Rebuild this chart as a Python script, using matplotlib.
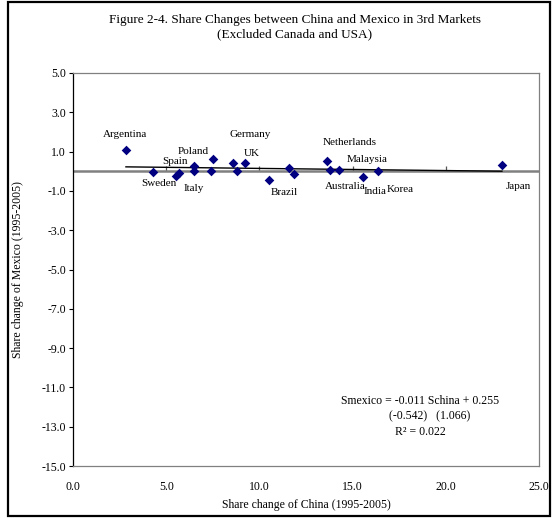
import numpy as np
import matplotlib
matplotlib.use("Agg")
import matplotlib.pyplot as plt
from matplotlib.patches import Rectangle

plt.rcParams["font.family"] = ["Liberation Serif", "DejaVu Serif"]

# Share changes 1995-2005 (percentage points) in third markets
china = [2.84, 4.28, 5.51, 5.69, 6.51, 6.51, 7.53, 7.40, 8.60, 8.81,
         9.23, 10.53, 11.60, 11.84, 13.61, 13.80, 14.25, 15.57, 16.38, 23.01]
mexico = [1.07, -0.03, -0.25, -0.09, 0.25, 0.00, 0.63, 0.00, 0.42, 0.00,
          0.42, -0.47, 0.19, -0.15, 0.53, 0.07, 0.07, -0.27, 0.02, 0.31]

# Country names and where they are written (data coords)
names = ["Argentina", "Sweden", "Spain", "Poland", "Italy", "Germany", "UK",
         "Brazil", "Netherlands", "Malaysia", "Australia", "India", "Korea", "Japan"]
name_x = [2.79, 4.60, 5.47, 6.47, 6.49, 9.50, 9.59,
          11.32, 14.86, 15.78, 14.59, 16.20, 17.54, 23.87]
name_y = [1.88, -0.63, 0.51, 1.03, -0.88, 1.85, 0.90,
          -1.09, 1.48, 0.61, -0.76, -1.03, -0.93, -0.76]

slope, intercept = -0.011, 0.255
xticks = [0, 5, 10, 15, 20, 25]
yticks = [5, 3, 1, -1, -3, -5, -7, -9, -11, -13, -15]

NAVY = "#000080"
GRAY = "#808080"

fig = plt.figure(figsize=(5.56, 5.18), dpi=100)
ax = fig.add_axes([73 / 556, 1 - 466 / 518, 466 / 556, 393 / 518])

# outer chart border
fig.add_artist(Rectangle((8 / 556, 2 / 518), 542 / 556, 514 / 518,
                         transform=fig.transFigure, fill=False,
                         edgecolor="black", linewidth=1.6))

ax.scatter(china, mexico, marker="D", s=24, color=NAVY, zorder=4,
           linewidths=0)
xs = np.array([min(china), max(china)])
ax.plot(xs, slope * xs + intercept, color="black", linewidth=1.0, zorder=3)

for n, x, y in zip(names, name_x, name_y):
    ax.text(x, y, n, fontsize=8, ha="center", va="center")

ax.set_xlim(0, 25)
ax.set_ylim(-15, 5)
ax.set_xticks(xticks)
ax.set_xticklabels([f"{v:.1f}" for v in xticks], fontsize=8.5)
ax.tick_params(axis="x", length=0, pad=11)
ax.set_yticks(yticks)
ax.set_yticklabels([f"{v:.1f}" for v in yticks], fontsize=8.5)
ax.tick_params(axis="y", length=3, width=0.8, direction="out", pad=2)

for side in ["top", "right", "bottom"]:
    ax.spines[side].set_color(GRAY)
    ax.spines[side].set_linewidth(0.9)
ax.spines["left"].set_color("black")
ax.spines["left"].set_linewidth(0.9)

# horizontal axis crossing at zero, with its own tick marks
ax.axhline(0, color=GRAY, linewidth=1.8, zorder=2)
zero_ax = ax.secondary_xaxis(0.75)
zero_ax.set_xticks(xticks[1:-1])
zero_ax.set_xticklabels([])
zero_ax.tick_params(length=3.5, width=0.9, direction="out", color="#555555")
for s in zero_ax.spines.values():
    s.set_visible(False)

ax.set_xlabel("Share change of China (1995-2005)", fontsize=8.5, labelpad=4)
ax.set_ylabel("Share change of Mexico (1995-2005)", fontsize=8.5)
ax.yaxis.set_label_coords(-0.105, 0.5)

fig.text(0.53, 1 - 20 / 518,
         "Figure 2-4. Share Changes between China and Mexico in 3rd Markets",
         ha="center", va="center", fontsize=9.5)
fig.text(0.53, 1 - 34 / 518, "(Excluded Canada and USA)",
         ha="center", va="center", fontsize=9.5)

ax.text(0.744, 0.166, "Smexico = -0.011 Schina + 0.255",
        transform=ax.transAxes, ha="center", va="center", fontsize=8.5)
ax.text(0.766, 0.127, "(-0.542)   (1.066)",
        transform=ax.transAxes, ha="center", va="center", fontsize=8.5)
ax.text(0.745, 0.086, "R² = 0.022",
        transform=ax.transAxes, ha="center", va="center", fontsize=8.5)

fig.savefig("out.png", dpi=100)
